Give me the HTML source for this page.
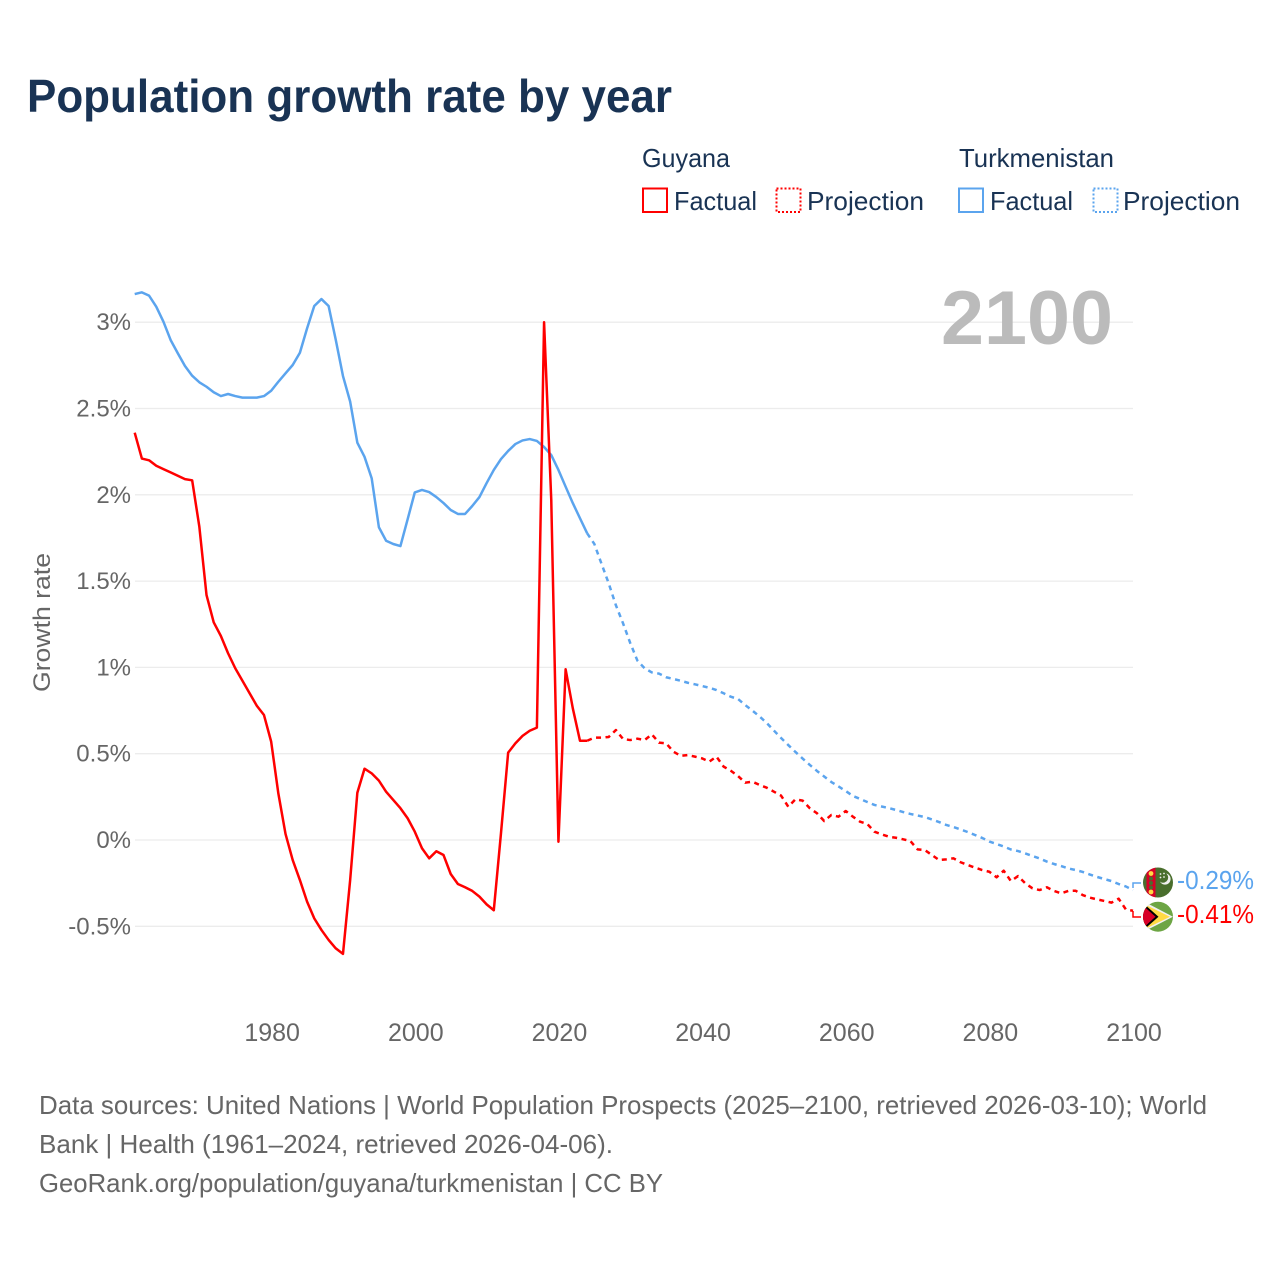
<!DOCTYPE html>
<html lang="en">
<head>
<meta charset="utf-8">
<title>Population growth rate by year</title>
<style>
html,body{margin:0;padding:0;background:#fff;}
svg{display:block;font-family:"Liberation Sans",sans-serif;}
</style>
</head>
<body>
<svg id="chart" width="1280" height="1280" viewBox="0 0 1280 1280" xmlns="http://www.w3.org/2000/svg">
  <defs>
    <clipPath id="clip-tm"><circle cx="1158" cy="882.5" r="15"/></clipPath>
    <clipPath id="clip-gy"><circle cx="1158" cy="916.7" r="15"/></clipPath>
  </defs>
  <rect width="1280" height="1280" fill="#fff"/>
  <text x="27" y="112" font-size="46" font-weight="700" fill="#193354" textLength="645" lengthAdjust="spacingAndGlyphs">Population growth rate by year</text>

  <g font-size="26" fill="#193354">
    <text x="642" y="167" textLength="88" lengthAdjust="spacingAndGlyphs">Guyana</text>
    <rect x="643" y="188.5" width="24" height="23.5" fill="none" stroke="#ff0000" stroke-width="2"/>
    <text x="674" y="210" textLength="83" lengthAdjust="spacingAndGlyphs">Factual</text>
    <rect x="776.5" y="188.5" width="24" height="23.5" fill="none" stroke="#ff0000" stroke-width="2" stroke-dasharray="2 2"/>
    <text x="807" y="210" textLength="117" lengthAdjust="spacingAndGlyphs">Projection</text>
    <text x="959" y="167" textLength="155" lengthAdjust="spacingAndGlyphs">Turkmenistan</text>
    <rect x="959" y="188.5" width="24" height="23.5" fill="none" stroke="#5ba4ee" stroke-width="2"/>
    <text x="990" y="210" textLength="83" lengthAdjust="spacingAndGlyphs">Factual</text>
    <rect x="1093.5" y="188.5" width="24" height="23.5" fill="none" stroke="#5ba4ee" stroke-width="2" stroke-dasharray="2 2"/>
    <text x="1123" y="210" textLength="117" lengthAdjust="spacingAndGlyphs">Projection</text>
  </g>

  <g id="grid"></g>
  <g id="yticks" font-size="24" fill="#666" text-anchor="end"></g>
  <g id="xticks" font-size="25" fill="#666" text-anchor="middle"></g>
  <text transform="translate(50,622.5) rotate(-90)" text-anchor="middle" font-size="24.5" fill="#666" textLength="139" lengthAdjust="spacingAndGlyphs">Growth rate</text>
  <text x="941" y="344" font-size="76" font-weight="700" fill="#bbbbbb" textLength="172" lengthAdjust="spacingAndGlyphs">2100</text>

  <g id="series"></g>

  <path d="M1133 888V883H1141" fill="none" stroke="#5ba4ee" stroke-width="1.5"/>
  <path d="M1133 911V917H1141" fill="none" stroke="#ff0000" stroke-width="1.5"/>

  <g clip-path="url(#clip-tm)">
    <rect x="1143" y="867" width="30" height="31" fill="#496e2d"/>
    <rect x="1146.5" y="867" width="9" height="31" fill="#d80027"/>
    <circle cx="1151" cy="873.5" r="2.4" fill="#ffda44"/>
    <circle cx="1151" cy="878.5" r="2" fill="#496e2d"/>
    <circle cx="1151" cy="883" r="2" fill="#496e2d"/>
    <circle cx="1151" cy="887.5" r="2" fill="#496e2d"/>
    <circle cx="1151" cy="892" r="2.4" fill="#ffda44"/>
    <circle cx="1165" cy="879" r="5.6" fill="#f0f0f0"/>
    <circle cx="1163" cy="877.5" r="5.2" fill="#496e2d"/>
    <circle cx="1160.5" cy="874" r="0.9" fill="#f0f0f0"/>
    <circle cx="1164" cy="873.5" r="0.9" fill="#f0f0f0"/>
    <circle cx="1160.5" cy="877.5" r="0.9" fill="#f0f0f0"/>
    <circle cx="1164" cy="877" r="0.9" fill="#f0f0f0"/>
  </g>
  <g clip-path="url(#clip-gy)">
    <rect x="1143" y="901" width="30" height="31" fill="#6da544"/>
    <polygon points="1143,901 1173,916.7 1143,932" fill="#f0f0f0"/>
    <polygon points="1143,903.5 1170,916.7 1143,930" fill="#ffda44"/>
    <polygon points="1143,903 1158.5,916.7 1143,930.5" fill="#000"/>
    <polygon points="1143,905.5 1155.5,916.7 1143,928" fill="#d80027"/>
  </g>

  <text x="1177" y="889" font-size="25.5" fill="#5ba4ee" textLength="77" lengthAdjust="spacingAndGlyphs">-0.29%</text>
  <text x="1177" y="923" font-size="25.5" fill="#ff0000" textLength="77" lengthAdjust="spacingAndGlyphs">-0.41%</text>

  <g font-size="26" fill="#666">
    <text x="39" y="1114" textLength="1168" lengthAdjust="spacingAndGlyphs">Data sources: United Nations | World Population Prospects (2025–2100, retrieved 2026-03-10); World</text>
    <text x="39" y="1153" textLength="574" lengthAdjust="spacingAndGlyphs">Bank | Health (1961–2024, retrieved 2026-04-06).</text>
    <text x="39" y="1192" textLength="624" lengthAdjust="spacingAndGlyphs">GeoRank.org/population/guyana/turkmenistan | CC BY</text>
  </g>
</svg>
<script>
var firstYear = 1961;
var factualLastYear = 2024;
var xTickYears = [1980, 2000, 2020, 2040, 2060, 2080, 2100];
var yTickValues = [-0.5, 0, 0.5, 1, 1.5, 2, 2.5, 3];
var yTickLabels = ["-0.5%", "0%", "0.5%", "1%", "1.5%", "2%", "2.5%", "3%"];

var guyanaFactual = [2.36,2.21,2.2,2.168,2.149,2.13,2.11,2.091,2.084,1.815,
  1.419,1.261,1.182,1.082,0.995,0.923,0.85,0.778,0.724,0.57,
  0.27,0.035,-0.116,-0.232,-0.357,-0.454,-0.521,-0.579,-0.628,-0.66,
  -0.232,0.274,0.413,0.386,0.344,0.28,0.232,0.184,0.126,0.048,
  -0.048,-0.106,-0.065,-0.087,-0.197,-0.255,-0.274,-0.295,-0.328,-0.373,
  -0.407,0.039,0.506,0.56,0.603,0.633,0.651,3.0,1.97,-0.01,
  0.989,0.763,0.575,0.575];
var guyanaProjection = [0.593,0.593,0.597,0.637,0.585,0.579,0.587,0.579,0.612,0.564,
  0.56,0.512,0.488,0.492,0.483,0.473,0.454,0.483,0.425,0.401,
  0.371,0.332,0.338,0.319,0.303,0.28,0.257,0.193,0.236,0.228,
  0.184,0.155,0.11,0.145,0.135,0.168,0.135,0.106,0.093,0.048,
  0.033,0.019,0.013,0.004,-0.006,-0.054,-0.058,-0.087,-0.116,-0.112,
  -0.106,-0.129,-0.145,-0.16,-0.174,-0.184,-0.216,-0.178,-0.238,-0.209,
  -0.251,-0.28,-0.29,-0.274,-0.295,-0.309,-0.295,-0.294,-0.319,-0.334,
  -0.344,-0.353,-0.363,-0.34,-0.402,-0.41];
var turkmenistanFactual = [3.163,3.173,3.154,3.09,3.003,2.897,2.82,2.746,2.69,2.652,
  2.626,2.594,2.572,2.584,2.572,2.563,2.563,2.563,2.572,2.603,
  2.655,2.704,2.752,2.823,2.964,3.094,3.134,3.094,2.897,2.688,
  2.54,2.302,2.22,2.095,1.812,1.734,1.715,1.703,1.858,2.014,
  2.028,2.016,1.987,1.952,1.912,1.889,1.889,1.935,1.987,2.068,
  2.144,2.207,2.254,2.294,2.315,2.323,2.312,2.277,2.23,2.144,
  2.047,1.952,1.864,1.777];
var turkmenistanProjection = [1.715,1.6,1.487,1.36,1.255,1.141,1.039,0.995,0.971,0.964,
  0.943,0.933,0.923,0.911,0.902,0.892,0.882,0.869,0.85,0.83,
  0.817,0.782,0.75,0.716,0.678,0.634,0.591,0.55,0.51,0.472,
  0.435,0.4,0.368,0.336,0.31,0.284,0.255,0.238,0.22,0.203,
  0.194,0.185,0.174,0.162,0.151,0.142,0.133,0.119,0.104,0.087,
  0.075,0.061,0.046,0.029,0.012,-0.009,-0.023,-0.038,-0.055,-0.064,
  -0.078,-0.093,-0.107,-0.125,-0.139,-0.151,-0.165,-0.174,-0.185,-0.2,
  -0.214,-0.226,-0.238,-0.255,-0.269,-0.29];

var NS = "http://www.w3.org/2000/svg";
function xScale(year) { return 134.7 + (year - 1961) * (998.3 / 139); }
function yScale(value) { return 840 - value * 172.6; }

var gridGroup = document.getElementById("grid");
var yTickGroup = document.getElementById("yticks");
var xTickGroup = document.getElementById("xticks");
var seriesGroup = document.getElementById("series");

yTickValues.forEach(function (value, i) {
  var gridLine = document.createElementNS(NS, "line");
  
  
  gridLine.setAttribute("x1", 135);
  gridLine.setAttribute("x2", 1133);
  gridLine.setAttribute("y1", yScale(value));
  gridLine.setAttribute("y2", yScale(value));
  gridLine.setAttribute("stroke", "#ececec");
  gridLine.setAttribute("stroke-width", "1.3");
  gridGroup.appendChild(gridLine);

  var yLabel = document.createElementNS(NS, "text");
  
  
  yLabel.setAttribute("x", 131);
  yLabel.setAttribute("y", yScale(value) + 8);
  yLabel.textContent = yTickLabels[i];
  yTickGroup.appendChild(yLabel);
});

xTickYears.forEach(function (year) {
  var xLabel = document.createElementNS(NS, "text");
  
  
  xLabel.setAttribute("x", xScale(year) + 1);
  xLabel.setAttribute("y", 1041);
  xLabel.textContent = String(year);
  xTickGroup.appendChild(xLabel);
});

function linePoints(values, startYear) {
  return values.map(function (value, i) {
    return xScale(startYear + i).toFixed(2) + "," + yScale(value).toFixed(2);
  }).join(" ");
}

function addSeries(name, values, startYear, color, dashed, joinValue) {
  var line = document.createElementNS(NS, "polyline");
  
  
  var all = joinValue === null ? values : [joinValue].concat(values);
  var start = joinValue === null ? startYear : startYear - 1;
  line.setAttribute("points", linePoints(all, start));
  line.setAttribute("fill", "none");
  line.setAttribute("stroke", color);
  line.setAttribute("stroke-width", "2.5");
  line.setAttribute("stroke-linejoin", "round");
  if (dashed) {
    line.setAttribute("stroke-dasharray", "5 4.5");
  }
  seriesGroup.appendChild(line);
}

addSeries("turkmenistan-factual-line", turkmenistanFactual, firstYear, "#5ba4ee", false, null);
addSeries("turkmenistan-projection-line", turkmenistanProjection, factualLastYear + 1, "#5ba4ee", true, turkmenistanFactual[turkmenistanFactual.length - 1]);
addSeries("guyana-factual-line", guyanaFactual, firstYear, "#ff0000", false, null);
addSeries("guyana-projection-line", guyanaProjection, factualLastYear + 1, "#ff0000", true, guyanaFactual[guyanaFactual.length - 1]);
</script>
</body>
</html>
